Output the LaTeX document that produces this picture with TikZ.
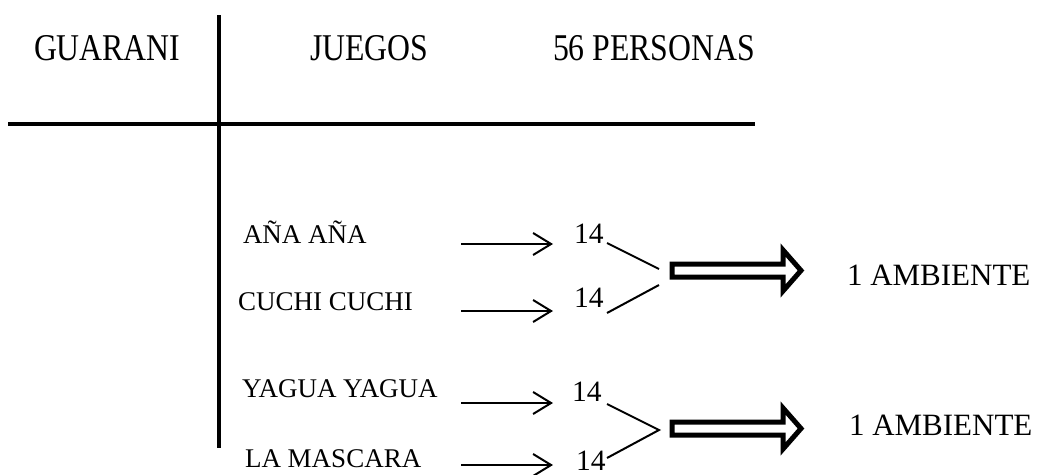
\documentclass[tikz,border=0pt]{standalone}
\usepackage{fontspec}
\setmainfont{Liberation Serif}
\usetikzlibrary{arrows.meta}
\tikzset{
  lbl/.style={anchor=base west, inner sep=0pt, outer sep=0pt},
  head/.style={lbl, font=\fontsize{37.8}{40}\selectfont},
  game/.style={lbl, font=\fontsize{27}{30}\selectfont},
  count/.style={lbl, font=\fontsize{29.5}{31}\selectfont},
  amb/.style={lbl, font=\fontsize{31}{34}\selectfont},
  rule/.style={line width=4pt},
  thinarrow/.style={line width=2pt, -{Straight Barb[length=18pt,width=22pt,line width=2pt]}},
  joinline/.style={line width=2pt},
  blockarrow/.style={line width=5pt, miter limit=10, line join=miter}
}
\newcommand{\cond}[1]{\scalebox{0.84}[1]{#1}}
\begin{document}
\begin{tikzpicture}[x=1pt,y=-1pt]
\useasboundingbox (0,0) rectangle (1040,474);
% table rules
\coordinate (vtop) at (219,15);
\coordinate (vbot) at (219,448);
\coordinate (hl) at (8,124);
\coordinate (hr) at (755,124);
\draw[rule] (vtop) -- (vbot);
\draw[rule] (hl) -- (hr);
% headers
\node[head] (guarani) at (34,60) {\cond{GUARANI}};
\node[head] (juegos) at (310,60) {\cond{JUEGOS}};
\node[head] (personas) at (553,60) {\cond{56 PERSONAS}};
% games
\node[game] (ana) at (243,243) {AÑA AÑA};
\node[game] (cuchi) at (238,310) {CUCHI CUCHI};
\node[game] (yagua) at (242,397) {YAGUA YAGUA};
\node[game] (mascara) at (245,467) {LA MASCARA};
% counts
\node[count] (n1) at (574,243) {14};
\node[count] (n2) at (574,307) {14};
\node[count] (n3) at (572,401) {14};
\node[count] (n4) at (576,470) {14};
% thin arrows
\coordinate (a1s) at (461,244); \coordinate (a1e) at (553,244);
\coordinate (a2s) at (461,311); \coordinate (a2e) at (553,311);
\coordinate (a3s) at (461,403); \coordinate (a3e) at (553,403);
\coordinate (a4s) at (461,465); \coordinate (a4e) at (553,465);
\draw[thinarrow] (a1s) -- (a1e);
\draw[thinarrow] (a2s) -- (a2e);
\draw[thinarrow] (a3s) -- (a3e);
\draw[thinarrow] (a4s) -- (a4e);
% joining lines
\coordinate (j1) at (607,243); \coordinate (k1) at (659,269);
\coordinate (j2) at (607,313); \coordinate (k2) at (659,285);
\coordinate (j3) at (607,404); \coordinate (k3) at (659,430);
\coordinate (j4) at (607,458);
\draw[joinline] (j1) -- (k1);
\draw[joinline] (j2) -- (k2);
\draw[joinline] (j3) -- (k3) -- (j4);
% block arrows
\draw[blockarrow] (672,264) -- (783,264) -- (783,250) -- (801,270.5) -- (783,291) -- (783,277) -- (672,277) -- cycle;
\draw[blockarrow] (672,422) -- (783,422) -- (783,408) -- (801,428.5) -- (783,449) -- (783,435) -- (672,435) -- cycle;
% results
\node[amb] (amb1) at (847,285) {1 AMBIENTE};
\node[amb] (amb2) at (849,435) {1 AMBIENTE};
\end{tikzpicture}
\end{document}
